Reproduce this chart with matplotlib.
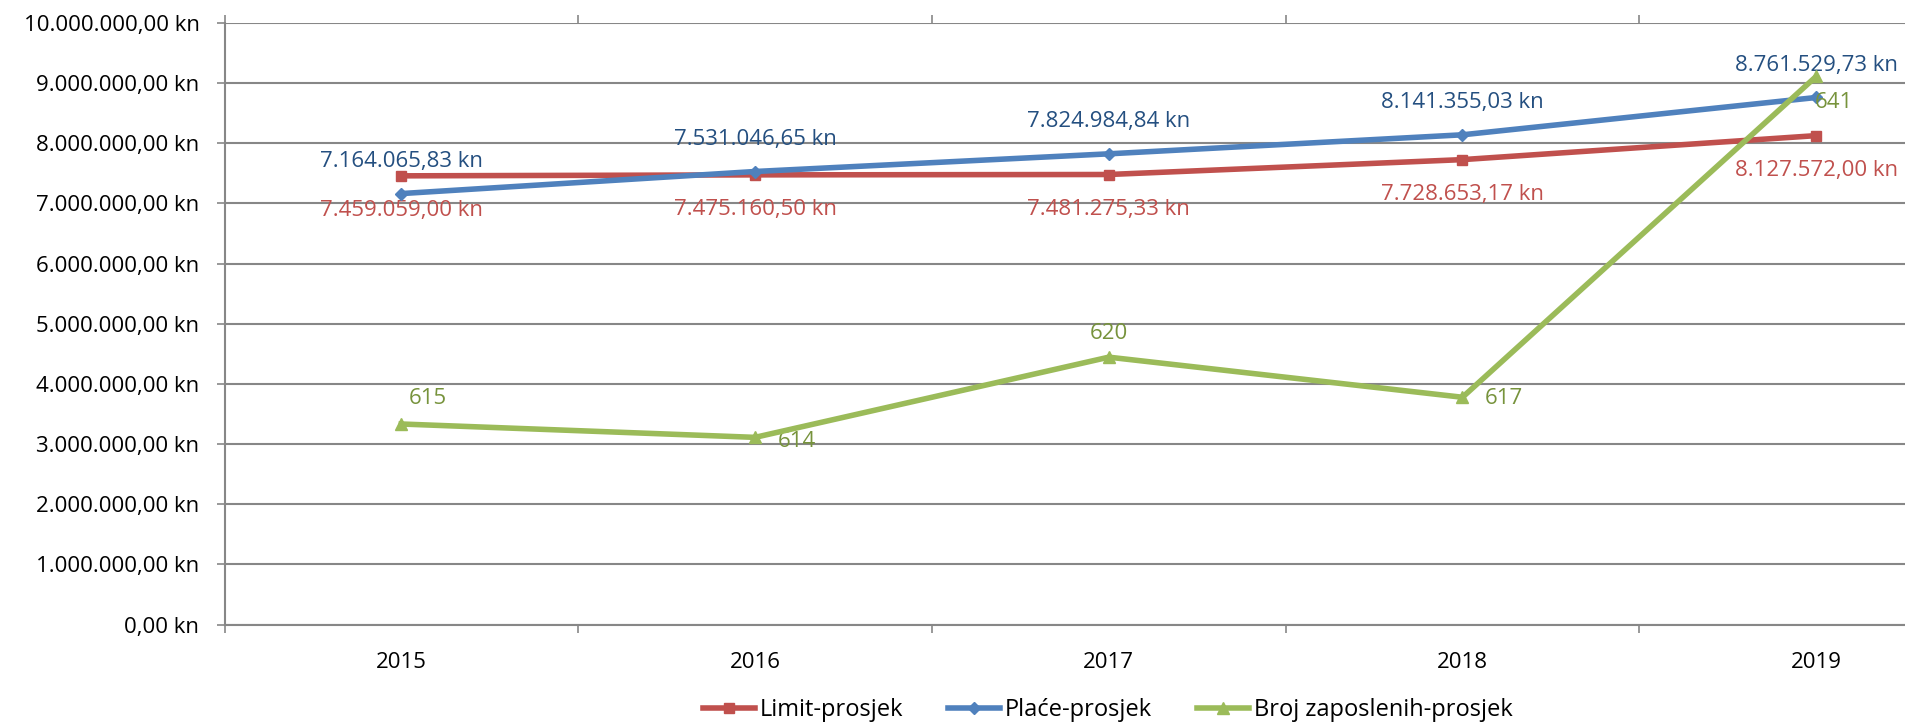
import matplotlib
matplotlib.use('Agg')
import matplotlib.pyplot as plt
from matplotlib.lines import Line2D
import matplotlib.ticker as mticker

years = ['2015', '2016', '2017', '2018', '2019']
limit_prosjek = [7459059.00, 7475160.50, 7481275.33, 7728653.17, 8127572.00]
place_prosjek = [7164065.83, 7531046.65, 7824984.84, 8141355.03, 8761529.73]
broj_zaposlenih = [615, 614, 620, 617, 641]
series_names = ['Limit-prosjek', 'Plaće-prosjek', 'Broj zaposlenih-prosjek']


def kn(v):
    s = f"{v:,.2f}"
    s = s.replace(',', 'X').replace('.', ',').replace('X', '.')
    return s + ' kn'


plt.rcParams['font.family'] = ['Open Sans', 'DejaVu Sans']

RED, RED_T = '#C0504D', '#C0504D'
BLUE, BLUE_T = '#4F81BD', '#244F80'
GREEN, GREEN_T = '#9BBB59', '#77933C'
GRID = '#878787'
FS = 16

W, H = 1905, 728
fig = plt.figure(figsize=(W / 100, H / 100), dpi=100)
left_px, right_px = 224.5, 1993
top_px, bot_px = 23, 624.5
ax = fig.add_axes([left_px / W, 1 - bot_px / H, (right_px - left_px) / W, (bot_px - top_px) / H])

x = list(range(len(years)))
ax.set_xlim(-0.5, len(years) - 0.5)
ax.set_ylim(0, 10_000_000)
ax.yaxis.set_major_locator(mticker.MultipleLocator(1_000_000))
ax.yaxis.set_major_formatter(mticker.FuncFormatter(lambda v, p: kn(v)))
ax.yaxis.grid(True, color=GRID, lw=1.5)
ax.set_axisbelow(True)
for s in ['top', 'right']:
    ax.spines[s].set_visible(False)
for s in ['left', 'bottom']:
    ax.spines[s].set_color(GRID)
    ax.spines[s].set_linewidth(1.5)

ax.set_xticks(x)
ax.set_xticklabels(years)
ax.set_xticks([i - 0.5 for i in range(len(years) + 1)], minor=True)
ax.tick_params(axis='x', which='major', length=0, pad=20, labelsize=FS)
ax.tick_params(axis='x', which='minor', length=6, width=1.2, color=GRID, direction='out', top=True)
ax.tick_params(axis='y', length=6, width=1.2, color=GRID, pad=12, labelsize=FS)

ax.plot(x, limit_prosjek, color=RED, lw=4, marker='s', ms=7, zorder=3, clip_on=False)
ax.plot(x, place_prosjek, color=BLUE, lw=4, marker='D', ms=6, zorder=4, clip_on=False)

for i, v in enumerate(place_prosjek):
    ax.annotate(kn(v), (i, v), xytext=(0, 23), textcoords='offset points',
                ha='center', va='center', color=BLUE_T, fontsize=FS)
for i, v in enumerate(limit_prosjek):
    ax.annotate(kn(v), (i, v), xytext=(0, -25), textcoords='offset points',
                ha='center', va='center', color=RED_T, fontsize=FS)

ax2 = ax.twinx()
ax2.set_ylim(600, 645)
ax2.axis('off')
ax2.plot(x, broj_zaposlenih, color=GREEN, lw=4, marker='^', ms=9, zorder=5, clip_on=False)

g_off = [((19, 18), 'center'), ((16, -3), 'left'), ((0, 17), 'center'), ((16, -1), 'left'), ((-1, -19), 'left')]
for i, v in enumerate(broj_zaposlenih):
    off, ha = g_off[i]
    ax2.annotate(str(v), (i, v), xytext=off, textcoords='offset points',
                 ha=ha, va='center', color=GREEN_T, fontsize=FS)

handles = [
    Line2D([], [], color=RED, lw=4, marker='s', ms=7),
    Line2D([], [], color=BLUE, lw=4, marker='D', ms=6),
    Line2D([], [], color=GREEN, lw=4, marker='^', ms=9),
]
fig.legend(handles, series_names, loc='center', bbox_to_anchor=(1108 / W, 1 - 710 / H),
           ncol=3, frameon=False, fontsize=17, handlelength=2.2, handletextpad=0.2,
           columnspacing=1.9)

fig.savefig('out.png', dpi=100)
